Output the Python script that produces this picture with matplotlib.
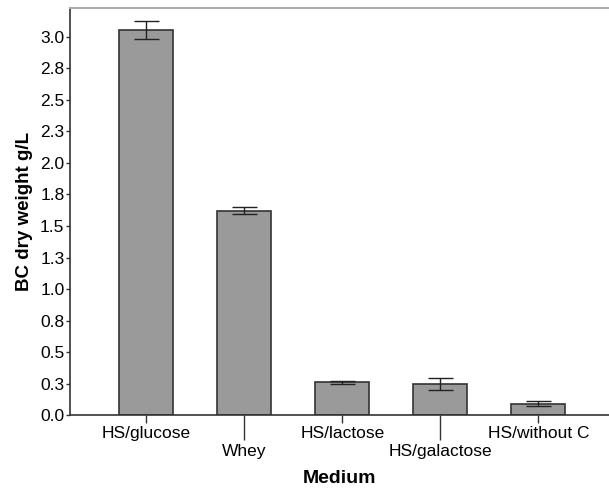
import matplotlib
matplotlib.use("Agg")
import matplotlib.pyplot as plt
import numpy as np

categories = ["HS/glucose", "Whey", "HS/lactose", "HS/galactose", "HS/without C"]
means = [3.055, 1.62, 0.26, 0.246, 0.09]
errors = [0.073, 0.027, 0.01, 0.045, 0.02]
ytick_vals = [0.0, 0.25, 0.5, 0.75, 1.0, 1.25, 1.5, 1.75, 2.0, 2.25, 2.5, 2.75, 3.0]
ytick_labels = ["0.0", "0.3", "0.5", "0.8", "1.0", "1.3", "1.5", "1.8", "2.0", "2.3", "2.5", "2.8", "3.0"]

plt.rcParams['font.family'] = ['Liberation Sans', 'DejaVu Sans']

fig = plt.figure(figsize=(6.09, 4.90), dpi=100)
ax = fig.add_axes([0.115, 0.153, 0.885, 0.8307])

x = np.arange(len(categories))
ax.bar(x, means, width=0.55, color="#9a9a9a", edgecolor="#333333", linewidth=1.2, zorder=2)
ax.errorbar(x, means, yerr=errors, fmt="none", ecolor="#222222", elinewidth=1.0,
            capsize=9, capthick=1.0, zorder=3)

ax.set_xlim(-0.776, 4.72)
ax.set_ylim(0, 3.23)
ax.set_yticks(ytick_vals)
ax.set_yticklabels(ytick_labels, fontsize=12.5)
ax.tick_params(axis='y', direction='out', length=3, width=1, color="#333333", pad=1)

even = [i for i in range(len(categories)) if i % 2 == 0]
odd = [i for i in range(len(categories)) if i % 2 == 1]
ax.set_xticks(even)
ax.set_xticklabels([categories[i] for i in even], fontsize=12.5)
ax.set_xticks(odd, minor=True)
ax.set_xticklabels([categories[i] for i in odd], minor=True, fontsize=12.5)
ax.tick_params(axis='x', which='major', direction='out', length=6, width=1, color="#333333", pad=2)
ax.tick_params(axis='x', which='minor', direction='out', length=18, width=1, color="#333333", pad=3)

for s in ["left", "bottom"]:
    ax.spines[s].set_color("#333333")
    ax.spines[s].set_linewidth(1.2)
ax.spines["top"].set_color("#aaaaaa")
ax.spines["top"].set_linewidth(1.5)
ax.spines["right"].set_visible(False)

ax.set_xlabel("Medium", fontsize=14, fontweight="bold", labelpad=8)
ax.set_ylabel("BC dry weight g/L", fontsize=13.5, fontweight="bold", labelpad=5)

fig.savefig("out.png", dpi=100)
